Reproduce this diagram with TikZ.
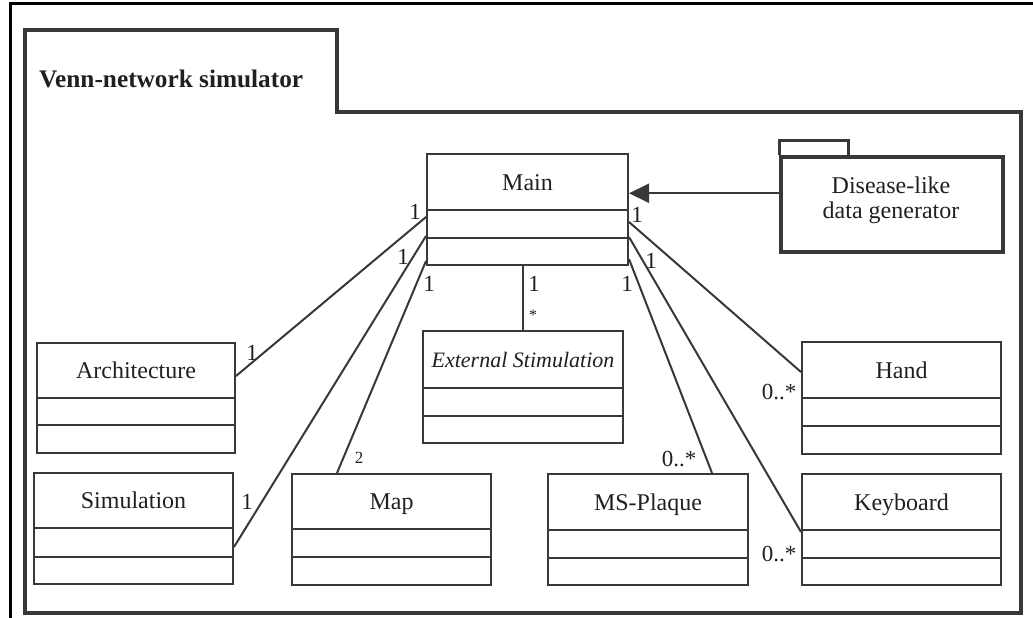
\documentclass[tikz,border=0pt]{standalone}
\usepackage{fontspec}
\setmainfont{Liberation Serif}
\usetikzlibrary{arrows.meta,calc,fit}

\definecolor{inkline}{HTML}{383838}
\definecolor{inktext}{HTML}{202020}

\tikzset{
  classbox/.style={draw=inkline, line width=2pt, inner sep=0pt},
  divider/.style={draw=inkline, line width=2pt},
  assoc/.style={draw=inkline, line width=2pt},
  pkgline/.style={draw=inkline, line width=3.5pt, line join=miter},
  classname/.style={font=\fontsize{24}{25}\selectfont, text=inktext, inner sep=0pt},
  mult/.style={font=\fontsize{23}{26}\selectfont, text=inktext, inner sep=0pt},
}

% UML class box with three compartments:
% #1 name, #2 left, #3 top, #4 right, #5 bottom, #6 first divider, #7 second divider, #8 label
\newcommand{\umlclass}[8]{%
  \node[classbox, fit={(#2,#3) (#4,#5)}] (#1) {};
  \draw[divider] (#1.west |- 0,#6) -- (#1.east |- 0,#6);
  \draw[divider] (#1.west |- 0,#7) -- (#1.east |- 0,#7);
  \node[classname, anchor=base] (#1-name) at ($(#2,#3)!0.5!(#4,#6)+(0,8)$) {#8};
}

\begin{document}
\begin{tikzpicture}[x=1pt, y=-1pt]
\useasboundingbox (0,0) rectangle (1033,618);

% page frame
\draw[line width=3pt, black] (10,618) -- (10,4) -- (1033,4);

% enclosing package
\draw[pkgline] (25,30) -- (337,30) -- (337,112) -- (1021,112) -- (1021,613) -- (25,613) -- cycle;
\node[font=\bfseries\fontsize{25.3}{28}\selectfont, text=inktext, anchor=base west, inner sep=0pt]
  (title) at (39,88) {Venn-network simulator};

% classes
\umlclass{main}{427}{154}{628}{265}{210}{238}{Main}
\umlclass{arch}{37}{343}{235}{453}{398}{425}{Architecture}
\umlclass{sim}{34}{473}{233}{584}{528}{557}{Simulation}
\umlclass{map}{292}{474}{491}{585}{529}{557}{Map}
\umlclass{ext}{423}{331}{623}{443}{388}{416}{\fontsize{22}{24}\selectfont\itshape External Stimulation}
\umlclass{msp}{548}{474}{748}{585}{530}{558}{MS-Plaque}
\umlclass{hand}{802}{342}{1001}{454}{398}{426}{Hand}
\umlclass{kbd}{802}{474}{1001}{585}{530}{558}{Keyboard}

% data generator package
\node[pkgline, fit={(781,157) (1003,252)}, inner sep=0pt] (gen) {};
\draw[pkgline] (gen.north west) -- ++(0,-15) -- ++(69,0) -- ++(0,15);
\node[classname, align=center] (gen-name) at (891,200) {Disease-like\\data generator};

% dependency of Main on the generator
\coordinate (gentail) at ($(gen.north west)+(0,38)$);
\draw[assoc, -{Triangle[length=20pt,width=19pt]}] (gentail) -- (main.east |- gentail);

% associations
\draw[assoc] ($(main.north west)+(0,64)$) -- ($(arch.north east)+(0,34)$);
\draw[assoc] ($(main.north west)+(0,83)$) -- ($(sim.north east)+(0,75)$);
\draw[assoc] ($(main.north west)+(0,108)$) -- ($(map.north west)+(46,0)$);
\draw[assoc] (ext.north |- main.south) -- (ext.north);
\draw[assoc] ($(main.north east)+(0,106)$) -- ($(msp.north west)+(165,0)$);
\draw[assoc] ($(main.north east)+(0,84)$) -- ($(kbd.north west)+(0,59)$);
\draw[assoc] ($(main.north east)+(0,69)$) -- ($(hand.north west)+(0,31)$);

% multiplicities
\node[mult] (m-arch-a) at (415,212) {1};
\node[mult] (m-arch-b) at (252,353) {1};
\node[mult] (m-sim-a)  at (403,257) {1};
\node[mult] (m-sim-b)  at (247,502) {1};
\node[mult] (m-map-a)  at (429,284) {1};
\node[mult, font=\fontsize{17}{20}\selectfont] (m-map-b) at (359,458) {2};
\node[mult] (m-ext-a)  at (534,284) {1};
\node[mult, font=\fontsize{16}{18}\selectfont] (m-ext-b) at (533,315) {*};
\node[mult] (m-hand-a) at (637,215) {1};
\node[mult] (m-kbd-a)  at (651,261) {1};
\node[mult] (m-msp-a)  at (627,284) {1};
\node[mult] (m-msp-b)  at (679,459) {0..*};
\node[mult] (m-hand-b) at (779,392) {0..*};
\node[mult] (m-kbd-b)  at (779,554) {0..*};
\end{tikzpicture}
\end{document}
